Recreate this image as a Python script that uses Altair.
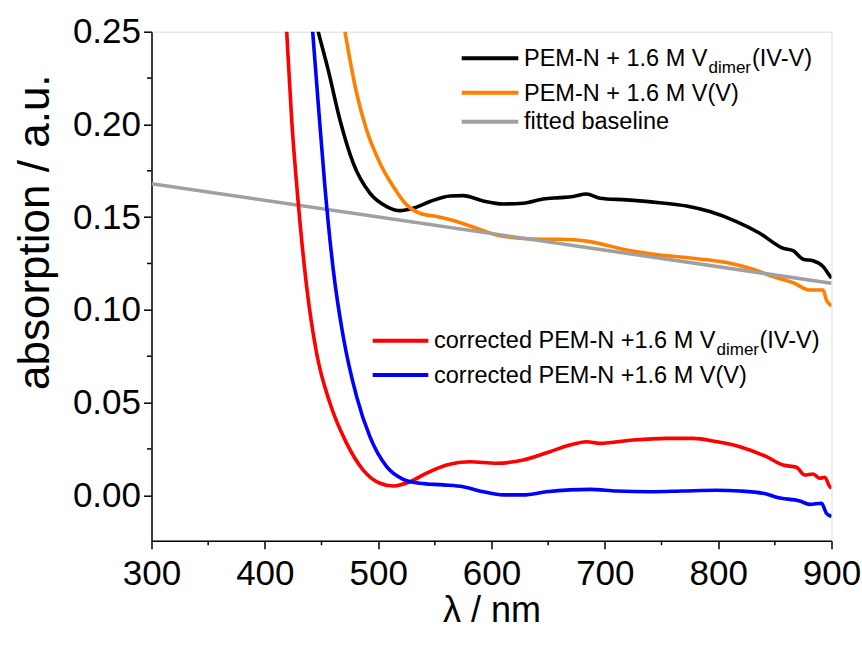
import altair as alt
import pandas as pd

# ---- data ----
black_x = [440, 447.1, 455.9, 466.3, 478.0, 492.7, 507.5, 519.2, 530.9, 545.7, 563.3, 575.0, 592.7, 610.3, 628.0, 645.6,
           660.3, 672.1, 683.9, 695.6, 719.2, 748.5, 772.1, 792.6, 816.2, 836.7, 857.3, 866.1, 874.9, 883.7, 892.6, 898.5, 900]
black_y = [0.268, 0.250, 0.2294, 0.2024, 0.1791, 0.1629, 0.1557, 0.1535, 0.1548, 0.1584, 0.1614, 0.1616, 0.1587, 0.1571,
           0.1575, 0.1598, 0.1605, 0.1611, 0.1625, 0.1602, 0.1593, 0.1578, 0.1560, 0.1530, 0.1476, 0.1413, 0.1332, 0.1319,
           0.1273, 0.1265, 0.1233, 0.1183, 0.117]

orange_x = [465, 470.7, 475.1, 481.0, 489.8, 501.6, 513.3, 525.1, 536.8, 551.6, 569.2, 586.8, 604.5, 625.0, 645.6, 660.3,
            686.8, 719.2, 748.5, 777.9, 807.4, 830.8, 848.5, 866.1, 880.8, 892.6, 895.5, 899.1, 900]
orange_y = [0.272, 0.250, 0.2348, 0.2168, 0.1970, 0.1791, 0.1665, 0.1566, 0.1521, 0.1503, 0.1476, 0.1440, 0.1404, 0.1386,
            0.1381, 0.1381, 0.1368, 0.1323, 0.1296, 0.1278, 0.1255, 0.1219, 0.1179, 0.1147, 0.1107, 0.1107, 0.1053, 0.1026,
            0.102]

baseline_x = [300, 900]
baseline_y = [0.168, 0.1143]

red_x = [417, 419.3, 423.7, 429.5, 436.9, 445.7, 457.5, 472.2, 486.8, 501.6, 513.3, 528.0, 542.7, 560.4, 580.9, 604.5,
         628.0, 651.5, 669.1, 683.9, 695.6, 725.0, 754.4, 777.9, 798.5, 819.1, 842.6, 857.3, 869.1, 876.4, 883.7, 889.7,
         894.1, 898.5, 900]
red_y = [0.275, 0.250, 0.2024, 0.1575, 0.1125, 0.0766, 0.0496, 0.0280, 0.0136, 0.0065, 0.0050, 0.0073, 0.0119, 0.0163,
         0.0181, 0.0173, 0.0190, 0.0235, 0.0271, 0.0289, 0.0280, 0.0298, 0.0307, 0.0307, 0.0289, 0.0262, 0.0208, 0.0163,
         0.0151, 0.0109, 0.0115, 0.0092, 0.0097, 0.0046, 0.004]

blue_x = [439, 442.2, 447.1, 453.0, 460.4, 469.2, 481.0, 492.7, 507.5, 522.1, 536.8, 557.4, 575.0, 592.7, 610.3, 628.0,
          648.6, 669.1, 686.8, 710.3, 739.7, 769.1, 798.5, 819.1, 842.6, 851.5, 872.0, 880.8, 891.2, 895.5, 899.1, 900]
blue_y = [0.275, 0.250, 0.2114, 0.1665, 0.1215, 0.0855, 0.0532, 0.0316, 0.0154, 0.0086, 0.0065, 0.0056, 0.0046, 0.0019,
          0.0002, 0.0002, 0.0019, 0.0029, 0.0032, 0.0023, 0.0019, 0.0023, 0.0027, 0.0023, 0.0007, -0.0011, -0.0031,
          -0.0049, -0.0043, -0.0097, -0.0112, -0.0115]

x_ticks = [300, 400, 500, 600, 700, 800, 900]
x_minor = [350, 450, 550, 650, 750, 850]
y_ticks = [0.00, 0.05, 0.10, 0.15, 0.20, 0.25]
y_minor = [0.025, 0.075, 0.125, 0.175, 0.225]

FONT = "Liberation Sans"
W, H = 680, 509
xs = alt.Scale(domain=[300, 900], nice=False, zero=False)
ys = alt.Scale(domain=[-0.0245, 0.25], nice=False, zero=False)


def series(xv, yv, color):
    df = pd.DataFrame({"x": xv, "y": yv})
    return alt.Chart(df).mark_line(color=color, strokeWidth=3.6, clip=True,
                                   interpolate="monotone").encode(
        x=alt.X("x:Q", scale=xs), y=alt.Y("y:Q", scale=ys))


common = dict(labelFontSize=35, tickSize=8, tickWidth=1.5, domainWidth=1.5,
              labelFont=FONT, titleFont=FONT, titleFontWeight="normal",
              labelFlush=False, labelOverlap=False, labelBound=False,
              grid=False, labelColor="black", titleColor="black",
              tickColor="black", domainColor="black")

base_axes = alt.Chart(pd.DataFrame({"x": [300], "y": [0.0]})).mark_point(opacity=0).encode(
    x=alt.X("x:Q", scale=xs, axis=alt.Axis(
        values=x_ticks, title="λ / nm", titleFontSize=36, labelPadding=8, titlePadding=2, **common)),
    y=alt.Y("y:Q", scale=ys, axis=alt.Axis(
        values=y_ticks, format=".2f", title="absorption / a.u.", titleFontSize=44, labelPadding=3,
        titleX=-116, titleY=200, titleBaseline="middle", **common)),
)

xminor = alt.Chart(pd.DataFrame({"x": x_minor})).mark_rule(color="black", strokeWidth=1.5).encode(
    x=alt.X("x:Q", scale=xs), y=alt.value(H), y2=alt.value(H + 4.5))
yminor = alt.Chart(pd.DataFrame({"y": y_minor})).mark_rule(color="black", strokeWidth=1.5).encode(
    y=alt.Y("y:Q", scale=ys), x=alt.value(-4.5), x2=alt.value(0))

# legend (layout positions)
leg_lines = [
    (310.2, 366.8, 26.6, "#000000"),
    (310.2, 366.8, 61.0, "#FF7F00"),
    (310.2, 366.8, 90.0, "#A0A0A0"),
    (221.2, 276.8, 309.0, "#FF0000"),
    (221.2, 276.8, 343.3, "#0000FF"),
]
leg_rules = []
for x1, x2, yy, c in leg_lines:
    leg_rules.append(alt.Chart(pd.DataFrame({"a": [0]})).mark_rule(color=c, strokeWidth=4).encode(
        x=alt.value(x1), x2=alt.value(x2), y=alt.value(yy)))

texts = [
    ("PEM-N + 1.6 M V", 372.5, 34.3, 23.5),
    ("dimer", 557.0, 41.0, 17),
    ("(IV-V)", 600.5, 34.3, 23.5),
    ("PEM-N + 1.6 M V(V)", 372.5, 68.8, 23.5),
    ("fitted baseline", 372.5, 97.6, 23.5),
    ("corrected PEM-N +1.6 M V", 282.5, 316.6, 23.5),
    ("dimer", 565.0, 323.6, 17),
    ("(IV-V)", 608.0, 316.6, 23.5),
    ("corrected PEM-N +1.6 M V(V)", 282.5, 351.6, 23.5),
]
leg_texts = []
for t, tx, ty, fs in texts:
    leg_texts.append(alt.Chart(pd.DataFrame({"a": [0]})).mark_text(
        text=t, font=FONT, fontSize=fs, align="left", baseline="alphabetic", color="black").encode(
        x=alt.value(tx), y=alt.value(ty)))

chart = alt.layer(
    base_axes,
    series(black_x, black_y, "#000000"),
    series(orange_x, orange_y, "#FF7F00"),
    series(baseline_x, baseline_y, "#A0A0A0"),
    series(red_x, red_y, "#FF0000"),
    series(blue_x, blue_y, "#0000FF"),
    xminor, yminor,
    *leg_rules, *leg_texts,
).properties(
    width=W, height=H,
    autosize=alt.AutoSizeParams(type="none"),
    padding={"left": 151.5, "top": 31.7, "right": 30.5, "bottom": 105.3},
).configure_view(stroke="black", strokeWidth=1.5).configure(background="white")

chart.save("out.html", embed_options={"renderer": "svg", "actions": False})
